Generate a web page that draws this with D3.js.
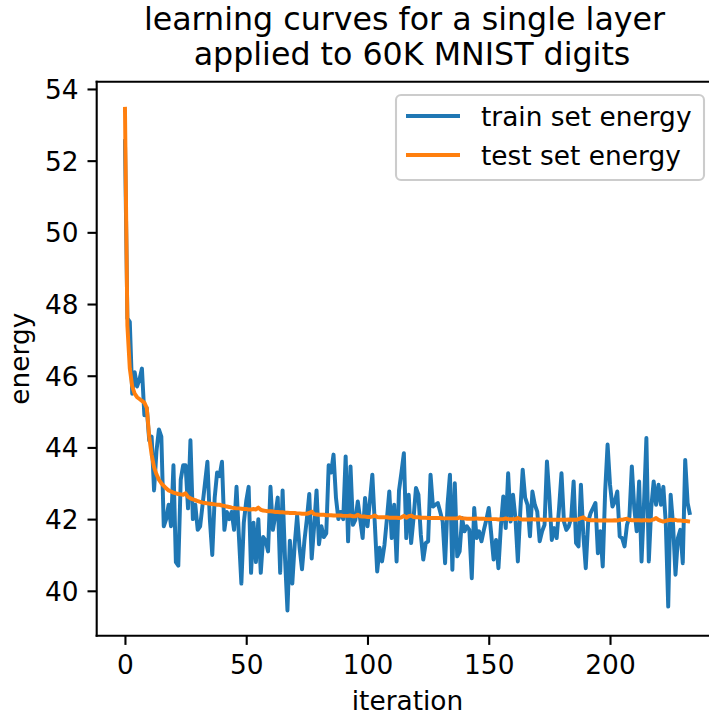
<!DOCTYPE html>
<html>
<head>
<meta charset="utf-8">
<script src="https://cdn.jsdelivr.net/npm/d3@7"></script>
<style>
  html, body { margin: 0; padding: 0; background: #fff; }
  svg { display: block; font-family: "DejaVu Sans", sans-serif; }
</style>
</head>
<body>
<svg id="chart" width="709" height="715"></svg>
<script>
const titleLines = ["learning curves for a single layer", "applied to 60K MNIST digits"];
const xLabel = "iteration";
const yLabel = "energy";
const seriesNames = ["train set energy", "test set energy"];
const xTicks = [0, 50, 100, 150, 200];
const yTicks = [40, 42, 44, 46, 48, 50, 52, 54];

const trainEnergy = [
  52.6, 47.6, 47.5, 45.5, 46.1, 45.7, 45.9, 46.2, 44.9, 45.1,
  44.2, 44.3, 42.8, 43.9, 44.5, 44.3, 41.8, 42.0, 42.4, 41.8,
  43.5, 40.8, 40.7, 43.1, 43.5, 43.5, 42.3, 44.2, 42.0, 42.4,
  41.7, 41.8, 42.4, 43.0, 43.6, 42.0, 41.0, 42.6, 43.3, 43.2,
  43.6, 41.7, 42.2, 42.0, 42.2, 41.7, 42.9, 41.5, 40.2, 41.9,
  42.5, 42.9, 40.5, 41.9, 40.8, 42.0, 40.5, 41.5, 41.4, 41.1,
  42.9, 41.7, 42.1, 42.6, 40.5, 42.8, 40.9, 39.45, 41.4, 40.2,
  41.3, 42.1, 41.2, 40.6, 41.4, 42.0, 42.7, 40.9, 41.8, 42.8,
  41.3, 41.8, 41.5, 41.6, 43.5, 43.3, 43.8, 42.6, 42.0, 42.2,
  42.0, 43.75, 41.38, 43.47, 41.84, 41.98, 42.49, 42.0, 41.47, 42.59,
  41.8, 42.5, 43.24, 41.9, 40.54, 41.2, 40.82, 41.28, 42.0, 42.77,
  41.47, 42.4, 40.82, 42.8, 43.3, 43.84, 41.47, 42.68, 41.33, 42.03,
  42.87, 42.68, 41.56, 40.87, 41.33, 41.38, 43.24, 42.35, 42.4, 42.45,
  42.2, 41.93, 40.77, 42.4, 43.24, 40.59, 43.0, 40.96, 41.1, 42.03,
  41.66, 41.8, 41.7, 40.35, 42.31, 41.47, 41.66, 41.38, 41.7, 41.98,
  42.31, 41.6, 40.87, 41.42, 40.63, 41.8, 42.63, 41.75, 43.28, 41.93,
  42.68, 42.03, 40.82, 42.21, 43.38, 42.6, 42.4, 41.52, 42.77, 42.4,
  42.21, 41.38, 41.66, 41.84, 43.61, 42.63, 41.42, 41.75, 41.47, 42.31,
  43.28, 41.93, 41.7, 41.8, 42.03, 43.05, 41.33, 41.24, 42.96, 41.56,
  40.63, 41.93, 42.17, 42.31, 42.45, 41.05, 41.66, 40.68, 42.77, 44.08,
  42.96, 42.35, 42.49, 42.77, 41.52, 41.47, 41.24, 41.84, 42.07, 43.47,
  42.31, 41.66, 43.05, 40.82, 42.4, 44.26, 40.82, 42.31, 43.05, 42.4,
  42.96, 42.4, 42.9, 41.89, 39.56, 42.68, 41.84, 40.45, 41.47, 41.7,
  40.77, 43.65, 42.45, 42.12
];

const testEnergy = [
  53.5, 47.4, 46.2, 45.7, 45.5, 45.4, 45.35, 45.3, 45.25, 45.1,
  44.3, 43.8, 43.45, 43.25, 43.1, 43.0, 42.93, 42.86, 42.8, 42.77,
  42.74, 42.72, 42.7, 42.69, 42.68, 42.72, 42.62, 42.58, 42.55, 42.53,
  42.5, 42.48, 42.46, 42.45, 42.44, 42.43, 42.42, 42.41, 42.4, 42.4,
  42.38, 42.37, 42.35, 42.34, 42.32, 42.31, 42.3, 42.3, 42.29, 42.28,
  42.28, 42.27, 42.27, 42.28, 42.27, 42.32, 42.26, 42.24, 42.23, 42.22,
  42.22, 42.21, 42.2, 42.2, 42.19, 42.19, 42.18, 42.18, 42.17, 42.17,
  42.17, 42.16, 42.16, 42.15, 42.15, 42.15, 42.17, 42.21, 42.14, 42.13,
  42.12, 42.12, 42.12, 42.11, 42.11, 42.11, 42.1, 42.1, 42.1, 42.1,
  42.09, 42.09, 42.09, 42.1, 42.08, 42.08, 42.12, 42.08, 42.07, 42.07,
  42.06, 42.06, 42.07, 42.1, 42.06, 42.05, 42.05, 42.05, 42.05, 42.04,
  42.04, 42.04, 42.04, 42.03, 42.05, 42.09, 42.04, 42.08, 42.1, 42.06,
  42.05, 42.05, 42.04, 42.04, 42.04, 42.03, 42.03, 42.03, 42.03, 42.03,
  42.03, 42.02, 42.02, 42.02, 42.02, 42.02, 42.02, 42.02, 42.05, 42.02,
  42.02, 42.01, 42.01, 42.01, 42.01, 42.02, 42.01, 42.01, 42.01, 42.0,
  42.0, 42.0, 42.0, 42.0, 41.99, 42.0, 42.0, 42.02, 42.0, 42.0,
  42.0, 42.0, 42.03, 42.0, 41.99, 41.99, 41.99, 41.99, 42.0, 41.99,
  41.99, 41.99, 41.98, 41.98, 41.98, 41.98, 41.98, 41.98, 41.98, 41.98,
  41.98, 41.98, 41.98, 41.99, 41.98, 41.98, 41.98, 42.0, 42.03, 42.05,
  42.0, 41.98, 41.97, 41.97, 41.97, 41.96, 41.96, 41.96, 41.97, 41.96,
  41.96, 41.96, 41.97, 41.96, 41.98, 41.98, 42.0, 42.01, 41.98, 41.97,
  41.97, 41.97, 41.97, 41.96, 41.97, 41.97, 41.96, 41.97, 41.99, 42.03,
  41.98, 41.95, 41.93, 41.95, 41.97, 41.98, 41.97, 41.98, 41.96, 41.96,
  41.95, 41.95, 41.94, 41.93
];

const colors = ["#1f77b4", "#ff7f0e"];
const FS = 26.4, TFS = 31.7;

const svg = d3.select("#chart");
const padL = 96.7, padT = 81.7, padB = 635.7, padR = 718.3;

const n = trainEnergy.length;
const xPad = (n - 1) * 0.05;
const x = d3.scaleLinear().domain([-xPad, (n - 1) + xPad]).range([padL, padR]);
const allVals = trainEnergy.concat(testEnergy);
const yMin = d3.min(allVals), yMax = d3.max(allVals);
const yPad = (yMax - yMin) * 0.05;
const y = d3.scaleLinear().domain([yMin - yPad, yMax + yPad]).range([padB, padT]);

svg.append("defs").append("clipPath").attr("id", "clip")
  .append("rect").attr("x", padL).attr("y", padT).attr("width", padR - padL).attr("height", padB - padT);

const line = d3.line().x((d, i) => x(i)).y(d => y(d));
const plot = svg.append("g").attr("clip-path", "url(#clip)");
[trainEnergy, testEnergy].forEach((s, k) => {
  plot.append("path").datum(s)
    .attr("d", line)
    .attr("fill", "none")
    .attr("stroke", colors[k])
    .attr("stroke-width", 3.96)
    .attr("stroke-linejoin", "round")
    .attr("stroke-linecap", "butt");
});

// axes
const xAxis = d3.axisBottom(x).tickValues(xTicks).tickSize(9.2).tickPadding(9).tickFormat(d3.format("d"));
const gx = svg.append("g").attr("transform", `translate(0,${padB})`).call(xAxis);
const yAxis = d3.axisLeft(y).tickValues(yTicks).tickSize(9.2).tickPadding(9).tickFormat(d3.format("d"));
const gy = svg.append("g").attr("transform", `translate(${padL},0)`).call(yAxis);
[gx, gy].forEach(g => {
  g.select(".domain").remove();
  g.selectAll(".tick line").attr("stroke", "#000").attr("stroke-width", 2.1);
  g.selectAll(".tick text").attr("fill", "#000").style("font-size", FS + "px")
    .style("font-family", "DejaVu Sans");
});
gx.selectAll(".tick text").attr("y", 38).attr("dy", 0);
gy.selectAll(".tick text").attr("dy", "0.36em");

// spines
svg.append("line").attr("x1", padL).attr("x2", padL).attr("y1", padT - 1.05).attr("y2", padB + 1.05)
  .attr("stroke", "#000").attr("stroke-width", 2.1);
svg.append("line").attr("x1", padL - 1.05).attr("x2", padR).attr("y1", padB).attr("y2", padB)
  .attr("stroke", "#000").attr("stroke-width", 2.1);
svg.append("line").attr("x1", padL - 1.05).attr("x2", padR).attr("y1", padT).attr("y2", padT)
  .attr("stroke", "#000").attr("stroke-width", 2.1);

// title
const cx = (padL + padR) / 2;
svg.append("text").attr("x", cx - 3).attr("y", 30).attr("text-anchor", "middle")
  .style("font-size", TFS + "px").text(titleLines[0]);
svg.append("text").attr("x", cx + 4.5).attr("y", 65).attr("text-anchor", "middle")
  .style("font-size", TFS + "px").text(titleLines[1]);

// axis labels
svg.append("text").attr("x", cx).attr("y", 710).attr("text-anchor", "middle")
  .style("font-size", FS + "px").text(xLabel);
svg.append("text").attr("transform", `translate(28.5,${(padT + padB) / 2}) rotate(-90)`)
  .attr("text-anchor", "middle").style("font-size", FS + "px").text(yLabel);

// legend
const lg = svg.append("g");
lg.append("rect").attr("x", 396).attr("y", 95).attr("width", 308).attr("height", 85)
  .attr("rx", 5).attr("ry", 5)
  .attr("fill", "rgba(255,255,255,0.8)").attr("stroke", "#cccccc").attr("stroke-width", 2.1);
seriesNames.forEach((name, k) => {
  const cy = 116 + k * 39;
  lg.append("line").attr("x1", 406).attr("x2", 460).attr("y1", cy).attr("y2", cy)
    .attr("stroke", colors[k]).attr("stroke-width", 3.96);
  lg.append("text").attr("x", 481).attr("y", cy + 9.5).style("font-size", FS + "px").text(name);
});
</script>
</body>
</html>
